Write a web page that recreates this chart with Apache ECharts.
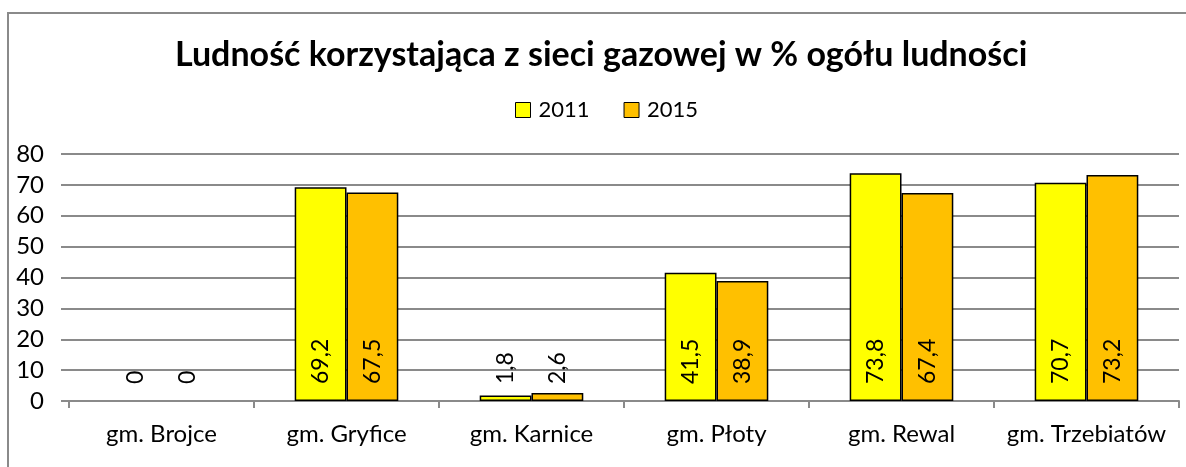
<html>
<head>
    <meta charset="utf-8">
    <title>Ludność korzystająca z sieci gazowej</title>
    <script src="https://cdn.jsdelivr.net/npm/echarts@6/dist/echarts.min.js"></script>
    <style>
        html, body { margin: 0; padding: 0; background: #fff; overflow: hidden; }
        #wrap { position: relative; width: 1186px; height: 467px; overflow: hidden; }
        #main { width: 1186px; height: 467px; }
        /* ramka obszaru wykresu: w kadrze tylko lewa i górna krawędź */
        #frame {
            position: absolute; left: 7px; top: 12px; width: 1250px; height: 520px;
            border-left: 2px solid #8a8a8a; border-top: 2px solid #8a8a8a;
            pointer-events: none;
        }
    </style>
</head>
<body>
    <div id="wrap">
        <div id="main"></div>
        <div id="frame"></div>
    </div>
    <script>
        var categories = ['gm. Brojce', 'gm. Gryfice', 'gm. Karnice', 'gm. Płoty', 'gm. Rewal', 'gm. Trzebiatów'];
        var values2011 = [0, 69.2, 1.8, 41.5, 73.8, 70.7];
        var values2015 = [0, 67.5, 2.6, 38.9, 67.4, 73.2];

        var font = 'Lato, "Liberation Sans", sans-serif';

        // etykiety z przecinkiem dziesiętnym, pionowo od podstawy słupka
        var barLabel = {
            show: true,
            position: 'insideBottom',
            distance: 17,
            rotate: 90,
            align: 'left',
            verticalAlign: 'middle',
            fontFamily: font,
            fontSize: 23,
            color: '#000',
            formatter: function (p) {
                return String(p.value).replace('.', ',');
            }
        };

        // słupek o wartości 0 bez obramowania (w oryginale niewidoczny)
        function toItems(arr) {
            return arr.map(function (v) {
                return v === 0 ? { value: v, itemStyle: { borderWidth: 0 } } : v;
            });
        }

        var myChart = echarts.init(document.getElementById('main'));

        var option = {
            animation: false,
            backgroundColor: '#fff',
            title: {
                text: 'Ludność korzystająca z sieci gazowej w % ogółu ludności',
                left: 170,
                top: 33,
                textStyle: {
                    fontFamily: font,
                    fontSize: 34,
                    fontWeight: 'bold',
                    color: '#000'
                }
            },
            legend: {
                left: 515,
                top: 99,
                padding: 0,
                itemWidth: 15,
                itemHeight: 15,
                itemGap: 34,
                textStyle: { fontFamily: font, fontSize: 22, color: '#000', padding: [0, 0, 0, 3] },
                data: [
                    { name: '2011', icon: 'rect', itemStyle: { color: '#FFFF00', borderColor: '#000', borderWidth: 1 } },
                    { name: '2015', icon: 'rect', itemStyle: { color: '#FFC000', borderColor: '#000', borderWidth: 1 } }
                ]
            },
            grid: {
                left: 69,
                right: 7,
                top: 154,
                bottom: 66,
                containLabel: false
            },
            xAxis: {
                type: 'category',
                data: categories,
                axisLine: { lineStyle: { color: '#8a8a8a', width: 2 } },
                axisTick: { show: true, length: 7, lineStyle: { color: '#8a8a8a', width: 2 } },
                axisLabel: { interval: 0, margin: 21, fontFamily: font, fontSize: 24, color: '#000' }
            },
            yAxis: {
                type: 'value',
                min: 0,
                max: 80,
                interval: 10,
                axisLine: { show: false },
                axisTick: { show: true, length: 8, lineStyle: { color: '#8a8a8a', width: 2 } },
                splitLine: { lineStyle: { color: '#8a8a8a', width: 2 } },
                axisLabel: { margin: 25, fontFamily: font, fontSize: 24, color: '#000' }
            },
            series: [
                {
                    name: '2011',
                    type: 'bar',
                    data: toItems(values2011),
                    barGap: '0%',
                    barCategoryGap: '44%',
                    itemStyle: { color: '#FFFF00', borderColor: '#000', borderWidth: 1.5 },
                    label: barLabel
                },
                {
                    name: '2015',
                    type: 'bar',
                    data: toItems(values2015),
                    itemStyle: { color: '#FFC000', borderColor: '#000', borderWidth: 1.5 },
                    label: barLabel
                }
            ]
        };
        myChart.setOption(option);
    </script>
</body>
</html>
